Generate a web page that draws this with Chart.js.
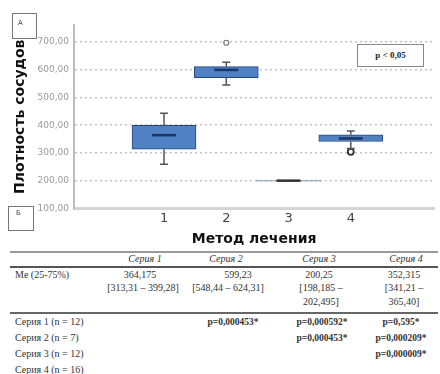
<!DOCTYPE html>
<html>
<head>
<meta charset="utf-8">
<script src="https://cdn.jsdelivr.net/npm/chart.js@4.4.1/dist/chart.umd.min.js"></script>
<style>
  html, body { margin:0; padding:0; background:#fff; }
  body { width:440px; height:374px; position:relative; overflow:hidden; }
  #wrap { position:absolute; left:0; top:0; width:440px; height:250px; }
  .box { position:absolute; border:1px solid #777; box-sizing:border-box; background:#fff; }
  .lbl { position:absolute; font-family:"DejaVu Sans", sans-serif; font-size:7px; color:#444; }
  .t { position:absolute; font-family:"Liberation Serif", serif; font-size:10px; line-height:12px; color:#333; white-space:nowrap; }
  .c { width:140px; text-align:center; }
  .hline { position:absolute; left:10px; width:428px; }
</style>
</head>
<body>
<div id="wrap"><canvas id="c" width="440" height="250"></canvas></div>
<div id="overlay"></div>
<script>
// ---- chart data ----
const categories = [1, 2, 3, 4];
const tickLabels = ['1', '2', '3', '4'];
const yTicks = [100, 200, 300, 400, 500, 600, 700];
const boxQ1 = [313.31, 571, 198.185, 341.21];
const boxQ3 = [399.28, 611, 202.495, 365.40];
const medians = [364.175, 599.23, 200.25, 352.315];
const whiskerLow = [259, 545, 198.185, 316];
const whiskerHigh = [443, 627, 202.495, 379];
const outlierX = [2, 4];
const outlierY = [697, 304];

// ---- table data ----
const seriesNames = ['Серия 1', 'Серия 2', 'Серия 3', 'Серия 4'];
const medianText = ['364,175', '599,23', '200,25', '352,315'];
const iqrLine1 = ['[313,31 – 399,28]', '[548,44 – 624,31]', '[198,185 –', '[341,21 –'];
const iqrLine2 = ['', '', '202,495]', '365,40]'];
const rowLabels = ['Серия 1 (n = 12)', 'Серия 2 (n = 7)', 'Серия 3 (n = 12)', 'Серия 4 (n = 16)'];
const pRow1 = ['', 'p=0,000453*', 'p=0,000592*', 'p=0,595*'];
const pRow2 = ['', '', 'p=0,000453*', 'p=0,000209*'];
const pRow3 = ['', '', '', 'p=0,000009*'];

const boxFill = ['#4f81c4', '#4f81c4', '#93a8c6', '#4f81c4'];
const boxEdge = ['#24457a', '#24457a', '#7d90ad', '#24457a'];

const boxExtras = {
  id: 'boxExtras',
  afterDatasetsDraw(chart) {
    const {ctx, scales: {x, y}} = chart;
    ctx.save();
    categories.forEach((c, i) => {
      const cx = x.getPixelForValue(c);
      ctx.strokeStyle = '#555';
      ctx.lineWidth = 1.5;
      if (whiskerHigh[i] > boxQ3[i]) {
        const yq = y.getPixelForValue(boxQ3[i]), yh = y.getPixelForValue(whiskerHigh[i]);
        ctx.beginPath(); ctx.moveTo(cx, yq); ctx.lineTo(cx, yh);
        ctx.moveTo(cx - 4, yh); ctx.lineTo(cx + 4, yh); ctx.stroke();
      }
      if (whiskerLow[i] < boxQ1[i]) {
        const yq = y.getPixelForValue(boxQ1[i]), yl = y.getPixelForValue(whiskerLow[i]);
        ctx.beginPath(); ctx.moveTo(cx, yq); ctx.lineTo(cx, yl);
        ctx.moveTo(cx - 4, yl); ctx.lineTo(cx + 4, yl); ctx.stroke();
      }
      const ym = y.getPixelForValue(medians[i]);
      ctx.strokeStyle = i === 2 ? '#333' : '#1c3763';
      ctx.lineWidth = 2.5;
      ctx.beginPath(); ctx.moveTo(cx - 12, ym); ctx.lineTo(cx + 12, ym); ctx.stroke();
    });
    ctx.restore();
  }
};

new Chart(document.getElementById('c'), {
  data: {
    datasets: [
      {
        type: 'bar',
        data: categories.map((c, i) => ({x: c, y: [boxQ1[i], boxQ3[i]]})),
        backgroundColor: boxFill,
        borderColor: boxEdge,
        borderWidth: 1,
        borderSkipped: false,
        barThickness: 64,
        order: 2
      },
      {
        type: 'scatter',
        data: outlierX.map((v, i) => ({x: v, y: outlierY[i]})),
        pointStyle: 'circle',
        pointRadius: [2.5, 3],
        backgroundColor: '#fff',
        borderColor: ['#777', '#333'],
        borderWidth: [1.2, 1.8],
        order: 1
      }
    ]
  },
  options: {
    responsive: false,
    animation: false,
    devicePixelRatio: 1,
    layout: { padding: { top: 25, left: 0, right: 0, bottom: 0 } },
    plugins: { legend: { display: false }, tooltip: { enabled: false } },
    scales: {
      x: {
        type: 'linear',
        min: 0.277,
        max: 4.617,
        afterBuildTicks: s => { s.ticks = categories.map(v => ({value: v})); },
        afterFit: s => { s.height = 41.5; },
        ticks: {
          autoSkip: false,
          callback: (v) => tickLabels[categories.indexOf(v)],
          font: { family: 'DejaVu Sans', size: 13 },
          color: '#444',
          padding: 2
        },
        grid: { display: false, drawTicks: false },
        border: { color: '#d4d4d4', width: 3 },
        title: {
          display: true,
          text: 'Метод лечения',
          font: { family: 'DejaVu Sans', weight: 'bold', size: 14 },
          color: '#111',
          padding: { top: 0, bottom: 2 }
        }
      },
      y: {
        type: 'linear',
        min: 100,
        max: 761,
        afterBuildTicks: s => { s.ticks = yTicks.map(v => ({value: v})); },
        afterFit: s => { s.width = 74; },
        ticks: {
          callback: v => v.toFixed(2).replace('.', ','),
          font: { family: 'DejaVu Sans', size: 9 },
          color: '#9a9a9a',
          padding: 5
        },
        grid: { color: '#c4c4c4', lineWidth: 1.5, drawTicks: false, borderDash: [2, 3] },
        border: { color: '#bdbdbd', width: 2, dash: [2, 3] },
        title: {
          display: true,
          text: 'Плотность сосудов',
          font: { family: 'DejaVu Sans', weight: 'bold', size: 14 },
          color: '#111',
          padding: { top: 12, bottom: 0 }
        }
      }
    }
  },
  plugins: [boxExtras]
});

// ---- overlay annotations and table ----
const ov = document.getElementById('overlay');
function el(cls, css, text) {
  const d = document.createElement('div');
  d.className = cls;
  d.style.cssText = css;
  if (text !== undefined) d.textContent = text;
  ov.appendChild(d);
  return d;
}
el('box', 'left:12px;top:13px;width:25px;height:26px;');
el('lbl', 'left:18px;top:19px;', 'А');
el('box', 'left:8px;top:206px;width:26px;height:25px;');
el('lbl', 'left:16px;top:209px;', 'Б');
el('box', 'left:357px;top:44px;width:67px;height:23px;border:1.5px solid #888;');
el('t', 'left:357px;top:49px;width:67px;text-align:center;font-weight:bold;font-size:9px;color:#222;', 'p < 0,05');

el('hline', 'top:251px;height:2px;background:#9a9a9a;');
el('hline', 'top:266px;height:1.5px;background:#555;');
el('hline', 'top:312px;height:1.5px;background:#666;');

const colHead = [145, 226, 319, 406];
const colMed = [140, 238, 319, 404];
const colIqr = [143, 228, 321, 404];
const colP = [0, 233, 322, 401];
function cText(cx, cy, text, extra) {
  if (!text) return;
  el('t c', `left:${cx - 70}px;top:${cy - 6}px;` + (extra || ''), text);
}
seriesNames.forEach((s, i) => cText(colHead[i], 259, s, 'font-style:italic;'));
el('t', 'left:15px;top:269px;', 'Me (25-75%)');
medianText.forEach((s, i) => cText(colMed[i], 275, s));
iqrLine1.forEach((s, i) => cText(colIqr[i], 288, s));
iqrLine2.forEach((s, i) => cText(colIqr[i], 302, s));
const rowY = [322, 338, 354, 370];
rowLabels.forEach((s, i) => el('t', `left:15px;top:${rowY[i] - 6}px;`, s));
[pRow1, pRow2, pRow3].forEach((row, r) => row.forEach((s, i) => cText(colP[i], rowY[r], s, 'font-weight:bold;font-size:9.5px;')));
</script>
</body>
</html>
